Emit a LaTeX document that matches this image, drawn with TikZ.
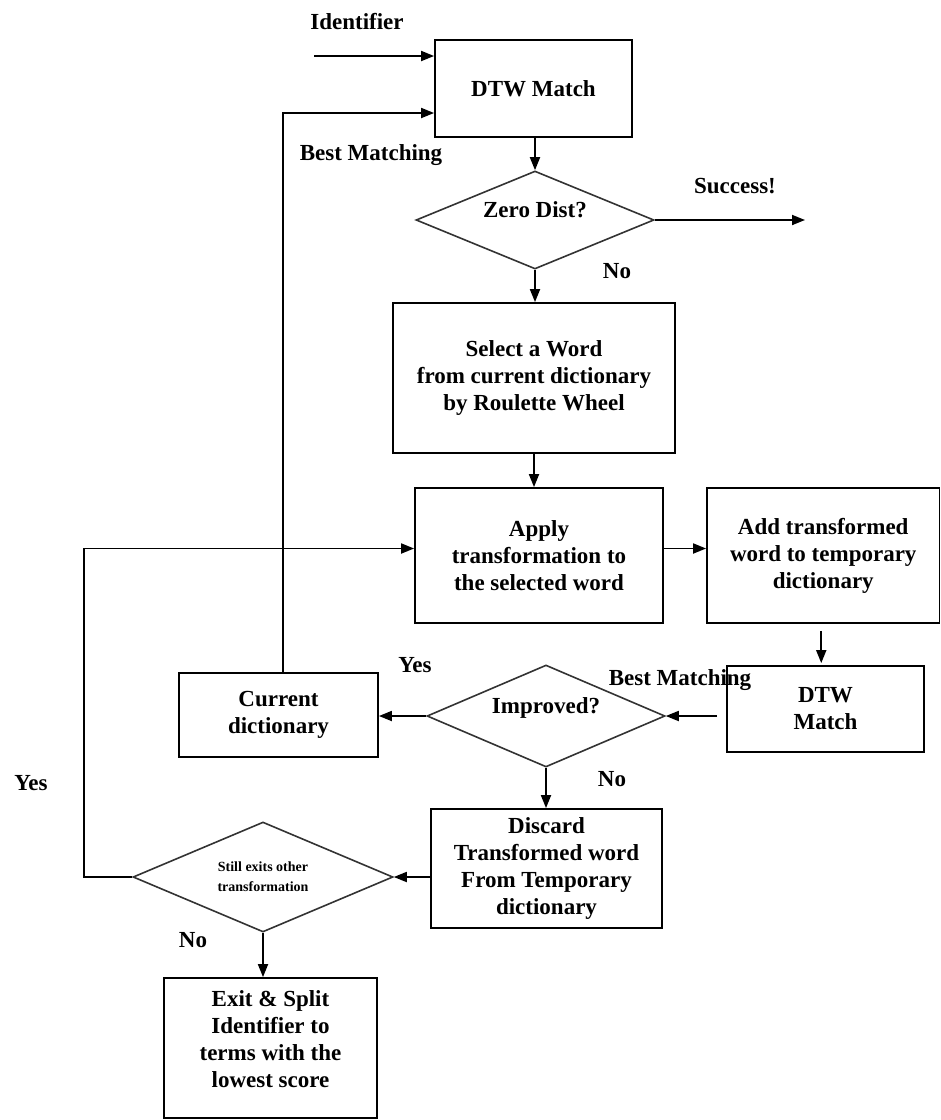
\documentclass[tikz,border=0pt]{standalone}
\usepackage{fontspec}
\setmainfont{Liberation Serif}
\usetikzlibrary{calc}
\usetikzlibrary{positioning}
\usetikzlibrary{shapes.geometric,arrows.meta}

\tikzset{
  every node/.style={font=\fontsize{11.5}{13.5}\selectfont\bfseries},
  box/.style={draw, line width=0.9pt, align=center, inner sep=0pt},
  decision/.style={diamond, aspect=2.4, draw=black!80, line width=0.8pt, align=center, inner sep=0pt},
  arr/.style={-{Triangle[length=6.5pt,width=5pt]}, line width=0.9pt},
  lbl/.style={inner sep=0pt},
}

\begin{document}
\begin{tikzpicture}[x=0.5pt, y=-0.5pt]
  \useasboundingbox (0,0) rectangle (941,1120);

  % main column
  \node [box, minimum width=98.5pt, minimum height=48.5pt] at (533.5,88.5) (dtw) {DTW Match};
  \node [decision, minimum width=119pt, minimum height=49pt, text depth=10pt] at (535,220) (zero) {Zero Dist?};
  \node [box, minimum width=141pt, minimum height=75pt] at (534,378) (sel) {Select a Word\\from current dictionary\\by Roulette Wheel};
  \node [box, minimum width=124pt, minimum height=67.5pt] at (539,555.5) (apply) {Apply\\transformation to\\the selected word};
  \node [box, minimum width=116.25pt, minimum height=67.5pt] at (823.25,555.5) (add) {Add transformed\\word to temporary\\dictionary};
  \node [box, minimum width=98.5pt, minimum height=43pt] at (825.5,709) (dtwb) {DTW\\Match};
  \node [decision, minimum width=119pt, minimum height=51pt, text depth=10pt] at (546,716) (improved) {Improved?};
  \node [box, minimum width=99.5pt, minimum height=42pt] at (278.5,715) (cur) {Current\\dictionary};
  \node [box, minimum width=115.5pt, minimum height=59.5pt] at (546.5,868.5) (discard) {Discard\\Transformed word\\From Temporary\\dictionary};
  \node [decision, minimum width=130pt, minimum height=55pt, font=\fontsize{7}{10}\selectfont\bfseries] at (263,877) (still) {Still exits other\\transformation};
  \node [box, minimum width=106.5pt, minimum height=70pt, text depth=9pt] at (270.5,1048) (exit) {Exit \& Split\\Identifier to\\terms with the\\lowest score};

  \coordinate (idin) at (314,56);
  \coordinate (succ) at (805,220);

  \draw [arr] (idin) -- (idin -| dtw.west);
  \draw [arr] (dtw.south -| zero.north) -- (zero.north);
  \draw [arr] (zero.east) -- (succ);
  \draw [arr] (zero.south) -- (zero.south |- sel.north);
  \draw [arr] (sel.south) -- (sel.south |- apply.north);
  \draw [arr] ($(apply.east)+(0,-7)$) -- ($(add.west)+(0,-7)$);
  \draw [arr, shorten <=3.5pt] ($(add.south)+(-2,0)$) -- ($(add.south |- dtwb.north)+(-2,-2)$);
  \draw [arr, shorten <=4.5pt] (dtwb.west |- improved.east) -- (improved.east);
  \draw [arr] (improved.west) -- (improved.west -| cur.east);
  \draw [arr] (improved.south) -- (improved.south |- discard.north);
  \draw [arr] (discard.west |- still.east) -- (still.east);
  \draw [arr] (still.south) -- (still.south |- exit.north);

  % loops back
  \draw [arr] ($(cur.north)+(4.5,0)$) |- ($(dtw.west)+(0,24.5)$);
  \draw [arr] (still.west) -- ++(-48,0) |- ($(apply.west)+(0,-7)$);

  % labels
  \node [lbl] at (357,22) (lid) {Identifier};
  \node [lbl] at (371,155) (lbm) {Best Matching};
  \node [lbl] at (735,186) (lsucc) {Success!};
  \node [lbl] at (617,271) (lnoa) {No};
  \node [lbl] at (415,665) (lyesa) {Yes};
  \node [lbl] at (680,680) (lbmb) {Best Matching};
  \node [lbl] at (612,779) (lnob) {No};
  \node [lbl] at (31,783) (lyesb) {Yes};
  \node [lbl] at (193,940) (lnoc) {No};
\end{tikzpicture}
\end{document}
